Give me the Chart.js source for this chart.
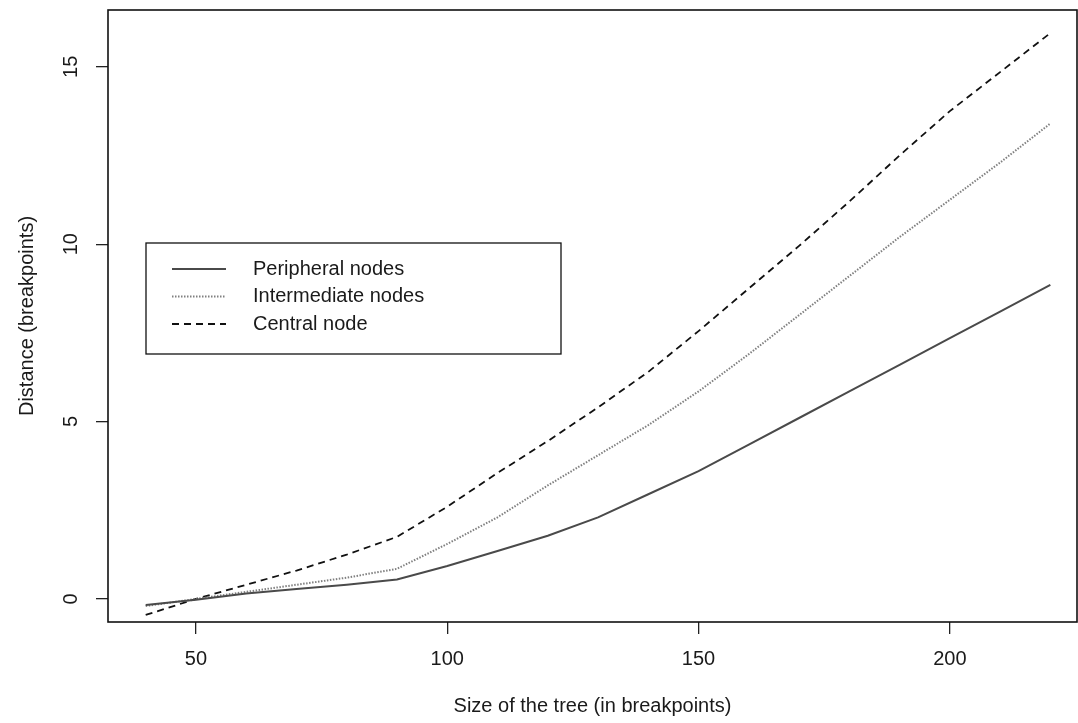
<!DOCTYPE html>
<html>
<head>
<meta charset="utf-8">
<script src="https://cdn.jsdelivr.net/npm/chart.js@4.4.0/dist/chart.umd.min.js"></script>
<style>
  body { margin: 0; background: #fff; }
  canvas { display: block; }
</style>
</head>
<body>
<canvas id="myCanvas" width="1078" height="723"></canvas>
<script>
// tree sizes (in breakpoints)
const treeSizes = [40, 50, 60, 70, 80, 90, 100, 110, 120, 130, 140, 150, 160, 170, 180, 190, 200, 210, 220];

// distance values
const peripheral = [-0.17, -0.02, 0.15, 0.28, 0.4, 0.55, 0.93, 1.35, 1.78, 2.3, 2.95, 3.6, 4.35, 5.1, 5.85, 6.6, 7.35, 8.1, 8.85];
const intermediate = [-0.2, 0.0, 0.2, 0.4, 0.6, 0.85, 1.55, 2.3, 3.2, 4.05, 4.9, 5.85, 6.9, 8.0, 9.1, 10.2, 11.25, 12.3, 13.4];
const central = [-0.45, 0.0, 0.4, 0.8, 1.25, 1.75, 2.6, 3.55, 4.45, 5.4, 6.4, 7.55, 8.75, 9.95, 11.2, 12.5, 13.75, 14.85, 15.95];

const seriesLabels = ["Peripheral nodes", "Intermediate nodes", "Central node"];
const xTicks = [50, 100, 150, 200];
const yTicks = [0, 5, 10, 15];

const FONT = "'Liberation Sans', Arial, Helvetica, sans-serif";

function toPoints(values) {
  return treeSizes.map((x, i) => ({ x: x, y: values[i] }));
}

// box around the plot region and the legend, drawn like base R
const boxPlugin = {
  id: "rbox",
  afterDraw(chart) {
    const ctx = chart.ctx;
    const a = chart.chartArea;
    ctx.save();
    ctx.strokeStyle = "#111";
    ctx.lineWidth = 1.6;
    ctx.strokeRect(a.left, a.top, a.right - a.left, a.bottom - a.top);

    // legend
    const lx = 146, ly = 243, lw = 415, lh = 111;
    ctx.lineWidth = 1.3;
    ctx.strokeRect(lx, ly, lw, lh);
    ctx.font = "20px " + FONT;
    ctx.textBaseline = "middle";
    ctx.fillStyle = "#1a1a1a";
    chart.data.datasets.forEach((ds, i) => {
      const y = 269 + i * 27.5;
      ctx.beginPath();
      ctx.strokeStyle = ds.borderColor;
      ctx.lineWidth = ds.borderWidth;
      ctx.setLineDash(ds.borderDash || []);
      ctx.moveTo(172, y);
      ctx.lineTo(226, y);
      ctx.stroke();
      ctx.setLineDash([]);
      ctx.fillText(ds.label, 253, y);
    });
    ctx.restore();
  }
};

function createLineChart() {
  const canvas = document.getElementById("myCanvas");
  const ctx = canvas.getContext("2d");

  const data = {
    datasets: [
      {
        label: seriesLabels[0],
        data: toPoints(peripheral),
        borderColor: "#4a4a4a",
        borderWidth: 2,
        borderDash: [],
      },
      {
        label: seriesLabels[1],
        data: toPoints(intermediate),
        borderColor: "#808080",
        borderWidth: 2,
        borderDash: [1.5, 1.5],
      },
      {
        label: seriesLabels[2],
        data: toPoints(central),
        borderColor: "#111",
        borderWidth: 1.8,
        borderDash: [7, 5],
      },
    ],
  };

  const tickFont = { family: FONT, size: 20 };

  const options = {
    responsive: false,
    animation: false,
    devicePixelRatio: 1,
    layout: { padding: { top: 10, right: 1, left: 0, bottom: 0 } },
    elements: {
      point: { radius: 0 },
      line: { tension: 0, fill: false },
    },
    plugins: {
      legend: { display: false },
      tooltip: { enabled: false },
    },
    scales: {
      x: {
        type: "linear",
        min: 32.5,
        max: 225.3,
        afterBuildTicks: (scale) => { scale.ticks = xTicks.map((v) => ({ value: v })); },
        afterFit: (scale) => {
          scale.height = 101;
          scale.paddingLeft = 0;
          scale.paddingRight = 0;
        },
        grid: { drawOnChartArea: false, drawTicks: true, tickLength: 12, color: "#222", lineWidth: 1.3 },
        border: { display: false },
        ticks: { font: tickFont, color: "#1a1a1a", padding: 13, maxRotation: 0, autoSkip: false },
        title: {
          display: true,
          text: "Size of the tree (in breakpoints)",
          font: tickFont,
          color: "#1a1a1a",
          padding: { top: 0, bottom: 5 },
        },
      },
      y: {
        type: "linear",
        min: -0.65,
        max: 16.6,
        afterBuildTicks: (scale) => { scale.ticks = yTicks.map((v) => ({ value: v })); },
        afterFit: (scale) => {
          scale.width = 108;
          scale.paddingTop = 0;
          scale.paddingBottom = 0;
        },
        grid: { drawOnChartArea: false, drawTicks: true, tickLength: 12, color: "#222", lineWidth: 1.3 },
        border: { display: false },
        ticks: { font: tickFont, color: "#1a1a1a", padding: 13, minRotation: 90, maxRotation: 90, crossAlign: "center" },
        title: {
          display: true,
          text: "Distance (breakpoints)",
          font: tickFont,
          color: "#1a1a1a",
          padding: { top: 15, bottom: 0 },
        },
      },
    },
  };

  new Chart(ctx, {
    type: "line",
    data: data,
    options: options,
    plugins: [boxPlugin],
  });
}

createLineChart();
</script>
</body>
</html>
